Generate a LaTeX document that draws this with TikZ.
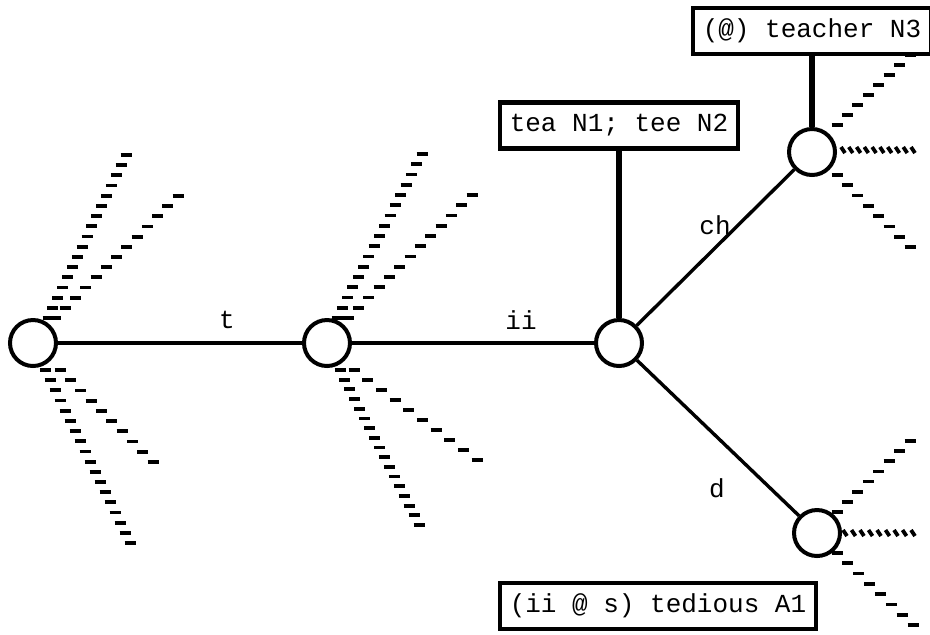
\documentclass[tikz,border=0pt]{standalone}
\usepackage{fontspec}
\setmonofont{Liberation Mono}
\usepackage{tikz}
\usetikzlibrary{calc}

% a row of short strokes running out from a state
\newcommand{\hatchline}[4]{%
  \coordinate (hs) at ($(#1)+(#2)$);
  \coordinate (he) at ($(#1)+(#3)$);
  \foreach \k in {0,...,#4}
    \draw[hatch] ($(hs)!\k/#4!(he)$) +(-5.5,0) -- +(5.5,0);
}
\newcommand{\tickline}[4]{%
  \coordinate (hs) at ($(#1)+(#2)$);
  \coordinate (he) at ($(#1)+(#3)$);
  \foreach \k in {0,...,#4}
    \draw[hatch] ($(hs)!\k/#4!(he)$) +(-2,-3) -- +(2,3);
}

\begin{document}
\begin{tikzpicture}[
  x=0.5pt, y=-0.5pt,
  state/.style={draw, circle, line width=2pt, minimum size=23pt, inner sep=0pt},
  entry/.style={draw, line width=2.2pt, inner xsep=5pt, minimum height=23pt,
                font=\fontsize{13}{15}\selectfont\ttfamily},
  lbl/.style={inner sep=0pt, font=\fontsize{13}{15}\selectfont\ttfamily},
  edge/.style={line width=1.7pt},
  stem/.style={line width=3.2pt},
  hatch/.style={line width=1.9pt}
]
  \useasboundingbox (0,0) rectangle (930,634);

  % Nodes
  \node[state] (q0) at (33,343) {};
  \node[state] (q1) at (327,343) {};
  \node[state] (q2) at (619,343) {};
  \node[state] (q3) at (812,152) {};
  \node[state] (q4) at (817,533) {};

  \node[entry] (e2) at (619,125.5) {tea N1; tee N2};
  \node[entry] (e3) at (812,31) {(@) teacher N3};
  \node[entry] (e4) at (658,606) {(ii @ s) tedious A1};

  % Edges
  \draw[edge] (q0) -- (q1);
  \draw[edge] (q1) -- (q2);
  \draw[edge] (q2) -- (q3);
  \draw[edge] (q2) -- (q4);
  \draw[stem] (e2) -- (q2);
  \draw[stem] (e3) -- (q3);

  \node[lbl] (lt) at (227,320) {t};
  \node[lbl] (lii) at (521,320) {ii};
  \node[lbl] (lch) at (715,225) {ch};
  \node[lbl] (ld) at (717,488) {d};

  % Hatching
  \hatchline{q0}{15,-25}{93,-188}{16}
  \hatchline{q0}{22,-25}{145,-147}{12}
  \hatchline{q0}{12,27}{97,200}{17}
  \hatchline{q0}{27,27}{120,119}{9}

  \hatchline{q1}{10,-25}{95,-189}{16}
  \hatchline{q1}{21,-25}{145,-148}{12}
  \hatchline{q1}{13,27}{92,182}{16}
  \hatchline{q1}{27,27}{150,117}{9}

  \hatchline{q3}{25,-27}{98,-97}{7}
  \tickline{q3}{31,-2}{101,-2}{9}
  \hatchline{q3}{25,23}{98,95}{7}

  \hatchline{q4}{20,-21}{93,-92}{7}
  \tickline{q4}{28,0}{96,0}{8}
  \hatchline{q4}{20,20}{96,92}{7}
\end{tikzpicture}
\end{document}
